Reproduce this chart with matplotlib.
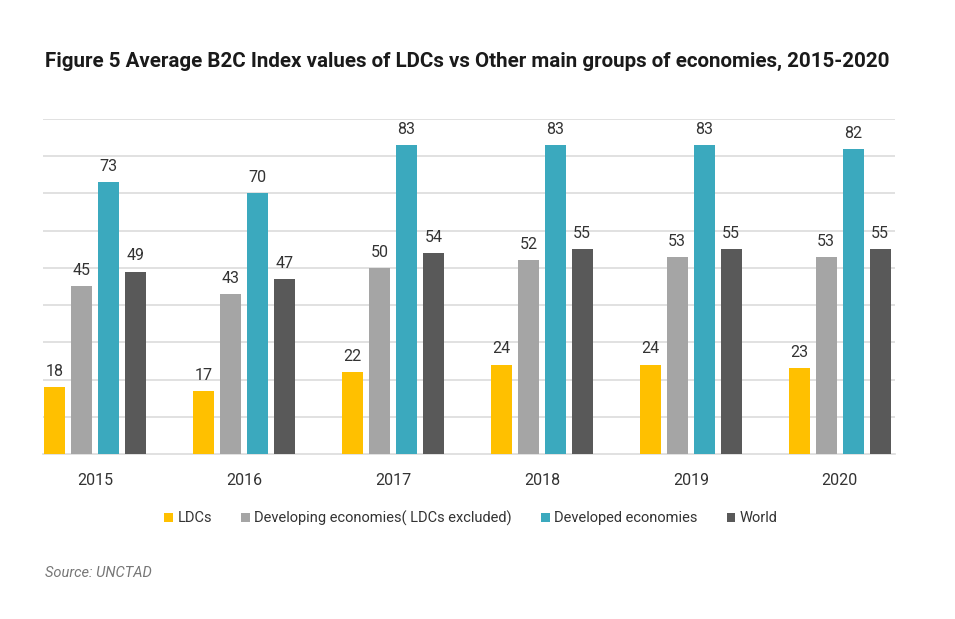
import matplotlib
matplotlib.use("Agg")
import matplotlib.pyplot as plt
import numpy as np
from matplotlib.patches import Patch

plt.rcParams['font.family'] = ['Roboto', 'DejaVu Sans']

years = ['2015', '2016', '2017', '2018', '2019', '2020']
series = ['LDCs', 'Developing economies( LDCs excluded)', 'Developed economies', 'World']
ldcs = [18, 17, 22, 24, 24, 23]
developing = [45, 43, 50, 52, 53, 53]
developed = [73, 70, 83, 83, 83, 82]
world = [49, 47, 54, 55, 55, 55]
colors = ['#FFC000', '#A5A5A5', '#3BA9BE', '#595959']

fig = plt.figure(figsize=(9.55, 6.19), dpi=100)
ax = fig.add_axes([0.045, 0.2666, 0.892, 0.5412])

x = np.arange(len(years))
width = 0.141
step = 0.181
for i, (vals, col) in enumerate(zip([ldcs, developing, developed, world], colors)):
    pos = x + (i - 1.5) * step
    ax.bar(pos, vals, width=width, color=col, zorder=3)
    for p, v in zip(pos, vals):
        ax.text(p, v + 2.2, str(v), ha='center', va='bottom', fontsize=11.5, color='#333333')

ax.set_xlim(-0.35, 5.37)
ax.set_ylim(0, 90)
ax.set_yticks(np.arange(10, 91, 10))
ax.yaxis.grid(True, color='#dcdcdc', linewidth=1.2, zorder=0)
ax.tick_params(left=False, labelleft=False, bottom=False)
ax.set_xticks(x)
ax.set_xticklabels(years, fontsize=11.5, color='#333333')
ax.tick_params(axis='x', pad=10)
for s in ['top', 'right', 'left']:
    ax.spines[s].set_visible(False)
ax.spines['bottom'].set_color('#dcdcdc')
ax.spines['bottom'].set_linewidth(1.2)

fig.text(0.047, 0.9, 'Figure 5 Average B2C Index values of LDCs vs Other main groups of economies, 2015-2020',
         fontsize=14.8, fontweight='bold', color='#1a1a1a', va='center', ha='left')

handles = [Patch(facecolor=c, edgecolor='none') for c in colors]
fig.legend(handles, series, loc='center', bbox_to_anchor=(0.493, 0.163), ncol=4, frameon=False,
           fontsize=10.5, handlelength=0.6, handleheight=0.6, handletextpad=0.3,
           columnspacing=2.0, labelcolor='#333333')

fig.text(0.047, 0.074, 'Source: UNCTAD', fontsize=10.5, style='italic', color='#777777',
         va='center', ha='left')

fig.savefig('out.png', dpi=100)
